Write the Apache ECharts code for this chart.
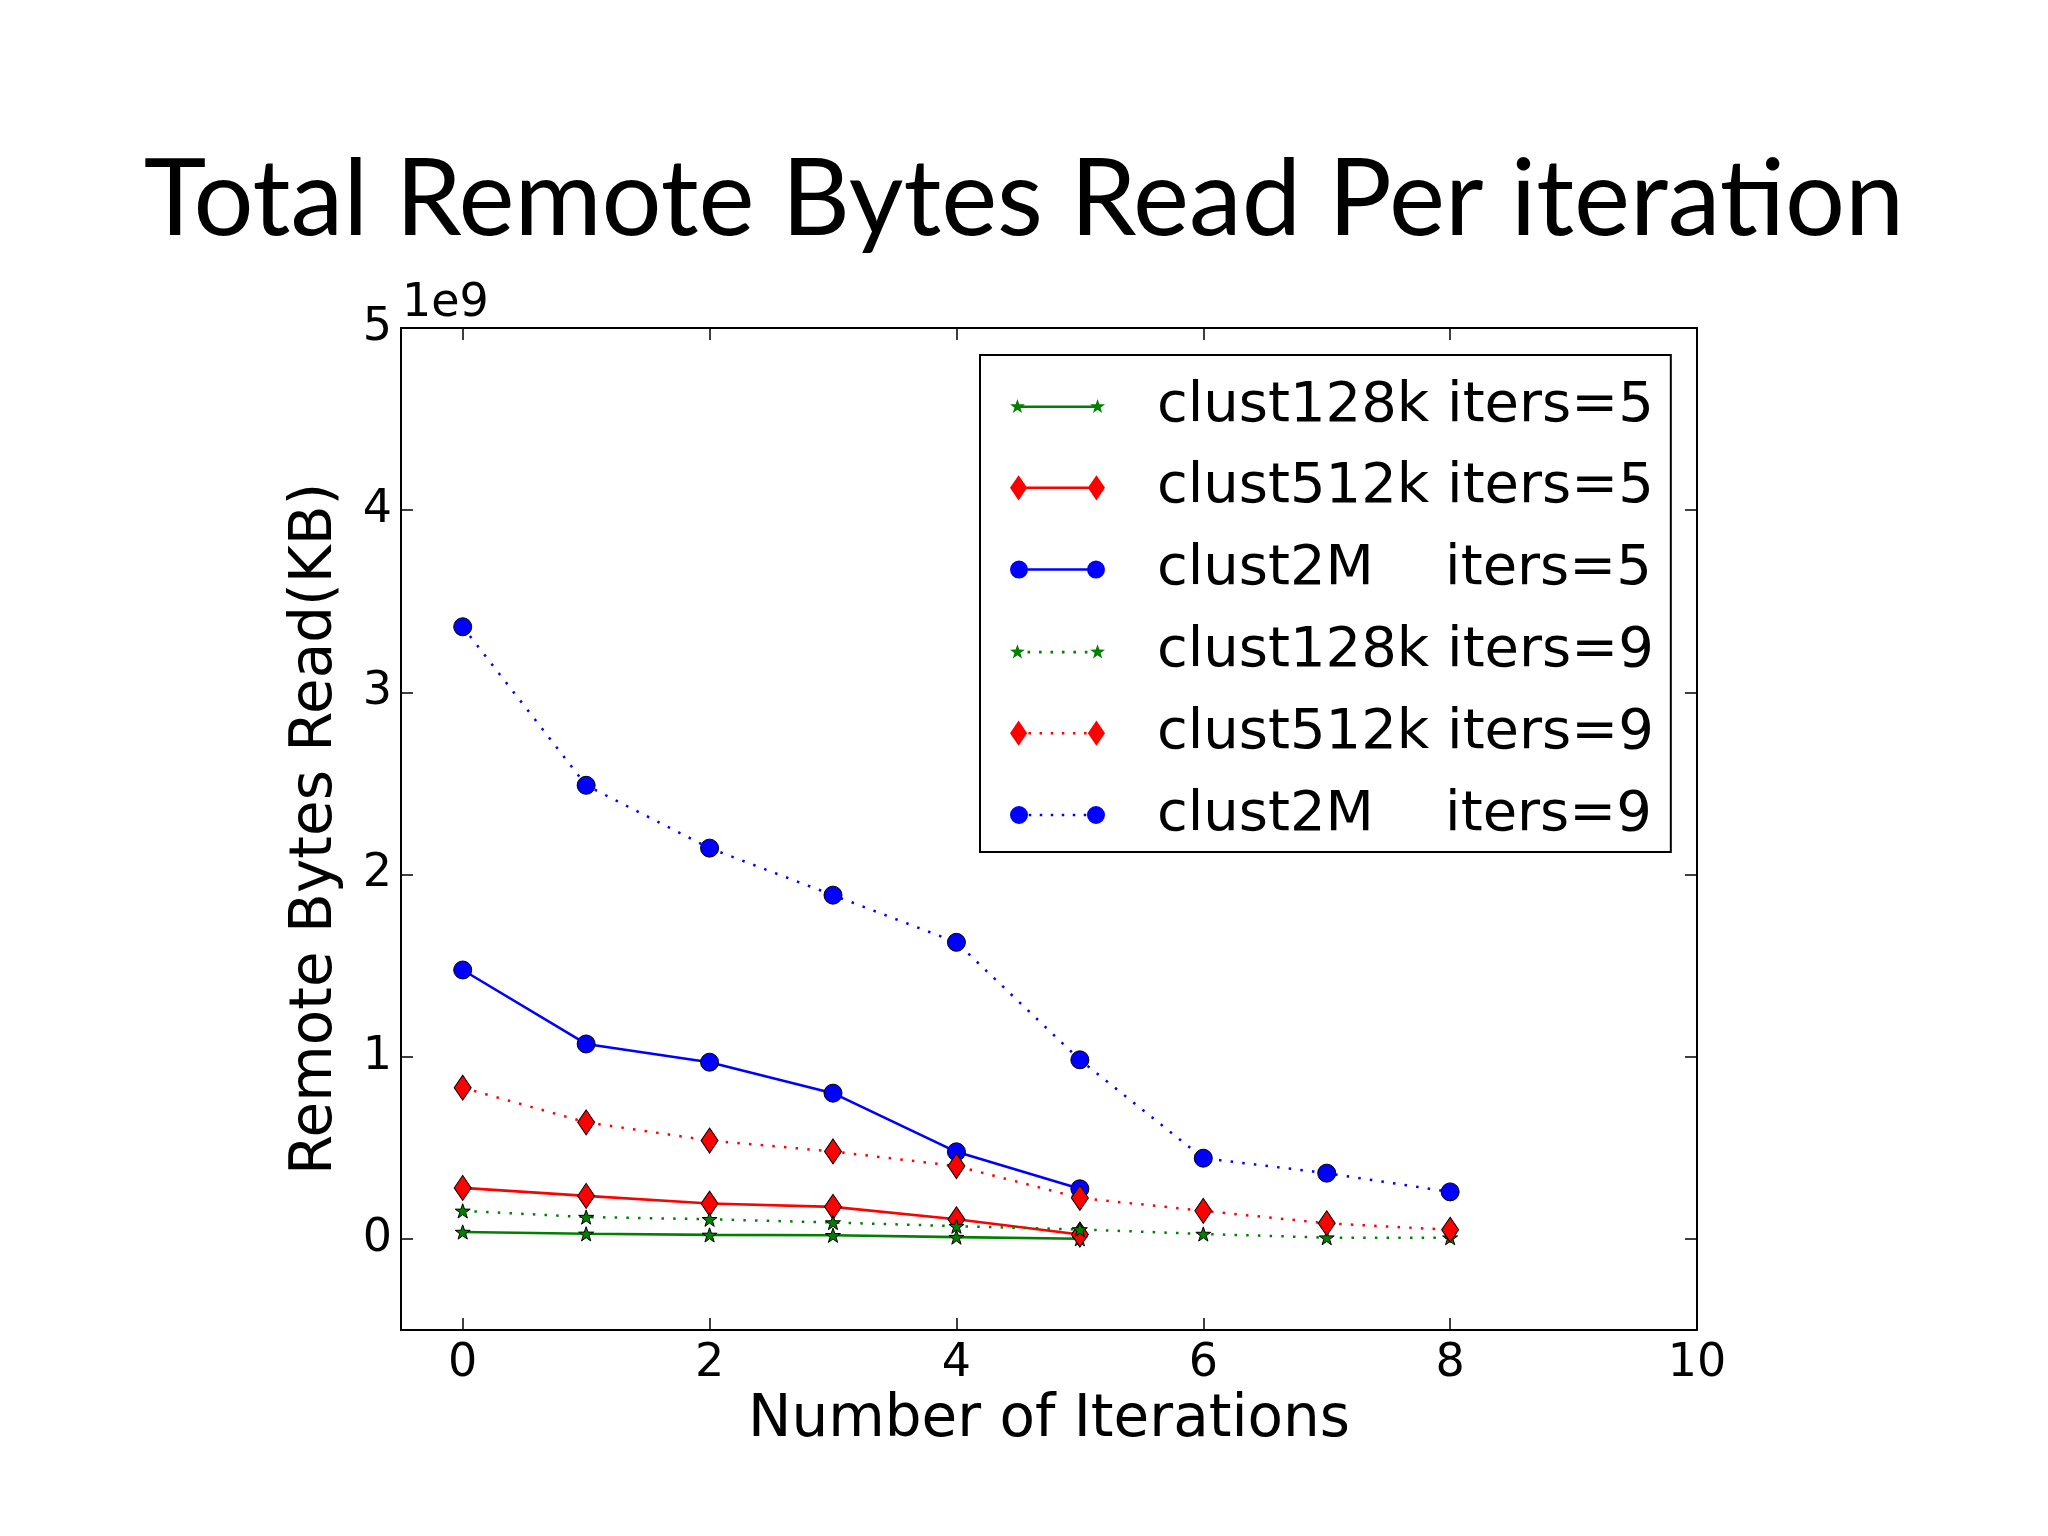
<!DOCTYPE html>
<html><head><meta charset="utf-8">
<script src="https://cdn.jsdelivr.net/npm/echarts@6/dist/echarts.min.js"></script>
<style>html,body{margin:0;padding:0;background:#fff}#c{width:2048px;height:1536px}</style>
</head><body><div id="c"></div>
<script>
// x values (iteration number)
const iters5 = [0, 1, 2, 3, 4, 5];
const iters9 = [0, 1, 2, 3, 4, 5, 6, 7, 8];
// values in units of 1e9
const clust128k_5 = [0.038, 0.028, 0.022, 0.020, 0.010, 0.001];
const clust512k_5 = [0.280, 0.236, 0.194, 0.176, 0.108, 0.024];
const clust2M_5   = [1.476, 1.070, 0.970, 0.800, 0.478, 0.275];
const clust128k_9 = [0.154, 0.120, 0.108, 0.090, 0.070, 0.052, 0.027, 0.007, 0.007];
const clust512k_9 = [0.830, 0.640, 0.540, 0.480, 0.400, 0.225, 0.154, 0.086, 0.050];
const clust2M_9   = [3.360, 2.490, 2.145, 1.887, 1.628, 0.983, 0.443, 0.361, 0.258];
const seriesNames = ['clust128k iters=5', 'clust512k iters=5', 'clust2M    iters=5',
                     'clust128k iters=9', 'clust512k iters=9', 'clust2M    iters=9'];
const xTicks = [0, 2, 4, 6, 8, 10];
const yTicks = [0, 1, 2, 3, 4, 5];
const yScaleLabel = '1e9';

const GREEN = '#008000', RED = '#ff0000', BLUE = '#0000ff';
const FONT = 'DejaVu Sans';

function starPath(cx, cy, R, r) {
  let d = '';
  for (let i = 0; i < 10; i++) {
    const a = -Math.PI / 2 + i * Math.PI / 5;
    const rad = i % 2 ? r : R;
    d += (i ? 'L' : 'M') + (cx + rad * Math.cos(a)).toFixed(2) + ',' + (cy + rad * Math.sin(a)).toFixed(2);
  }
  return d + 'Z';
}
function circlePath(cx, cy, r) {
  return `M${cx - r},${cy}A${r},${r} 0 1 1 ${cx + r},${cy}A${r},${r} 0 1 1 ${cx - r},${cy}Z`;
}
function diamondPath(cx, cy, hw, hh) {
  return `M${cx - hw},${cy}L${cx},${cy - hh}L${cx + hw},${cy}L${cx},${cy + hh}Z`;
}
const C1 = 9, C2 = 86, CY = 13;
function solidSeg() { return `M${C1},${CY - 1.25}L${C2},${CY - 1.25}L${C2},${CY + 1.25}L${C1},${CY + 1.25}Z`; }
function dotSeg() {
  let d = '';
  for (let k = 1; k <= 6; k++) { const x = C1 + k * 11; d += `M${x - 1.25},${CY - 1.25}h2.5v2.5h-2.5Z`; }
  return d;
}
function markerPair(kind) {
  if (kind === 'star') return starPath(C1, CY, 7.5, 3) + starPath(C2, CY, 7.5, 3);
  if (kind === 'diamond') return diamondPath(C1, CY, 8.5, 12.5) + diamondPath(C2, CY, 8.5, 12.5);
  return circlePath(C1, CY, 9) + circlePath(C2, CY, 9);
}
const legendIcon = (kind, dotted) => 'path://' + markerPair(kind) + (dotted ? dotSeg() : solidSeg());

const STAR = 'path://' + starPath(10, 10, 10, 3.9);

function mkSeries(name, xs, ys, color, kind, dotted) {
  const sym = kind === 'star' ? STAR : (kind === 'diamond' ? 'diamond' : 'circle');
  const size = kind === 'star' ? 15 : (kind === 'diamond' ? [17, 25] : 18);
  return {
    name, type: 'line',
    data: xs.map((x, i) => [x, ys[i]]),
    symbol: sym, symbolSize: size, symbolKeepAspect: true,
    showAllSymbol: true,
    lineStyle: { color, width: dotted ? 2.5 : 2.6, type: dotted ? [2.5, 9.2] : 'solid' },
    itemStyle: { color, borderColor: '#000', borderWidth: 1 },
    emphasis: { disabled: true },
    animation: false
  };
}

const series = [
  mkSeries(seriesNames[0], iters5, clust128k_5, GREEN, 'star', false),
  mkSeries(seriesNames[1], iters5, clust512k_5, RED, 'diamond', false),
  mkSeries(seriesNames[2], iters5, clust2M_5, BLUE, 'circle', false),
  mkSeries(seriesNames[3], iters9, clust128k_9, GREEN, 'star', true),
  mkSeries(seriesNames[4], iters9, clust512k_9, RED, 'diamond', true),
  mkSeries(seriesNames[5], iters9, clust2M_9, BLUE, 'circle', true)
];
const kinds = ['star', 'diamond', 'circle', 'star', 'diamond', 'circle'];

const axisLine = { show: true, onZero: false, lineStyle: { color: '#000', width: 2 } };
const tickStyle = { color: '#000', width: 1.5 };

const chart = echarts.init(document.getElementById('c'));
chart.setOption({
  backgroundColor: '#fff',
  animation: false,
  title: {
    text: 'Total Remote Bytes Read Per iteration',
    left: 'center', top: 143,
    textStyle: { fontFamily: 'Lato', fontSize: 106, fontWeight: 'normal', color: '#000' }
  },
  grid: { left: 401, top: 328, width: 1296, height: 1002, containLabel: false },
  xAxis: [
    {
      type: 'value', min: -0.5, max: 10, position: 'bottom',
      axisLine, splitLine: { show: false },
      axisTick: { show: true, inside: true, length: 12, customValues: xTicks, lineStyle: tickStyle },
      axisLabel: { customValues: xTicks, fontFamily: FONT, fontSize: 46, color: '#000', margin: 11 },
      name: 'Number of Iterations', nameLocation: 'middle', nameGap: 58,
      nameTextStyle: { fontFamily: FONT, fontSize: 58, color: '#000' }
    },
    {
      type: 'value', min: -0.5, max: 10, position: 'top',
      axisLine, splitLine: { show: false },
      axisTick: { show: true, inside: true, length: 12, customValues: xTicks, lineStyle: tickStyle },
      axisLabel: { show: false }
    }
  ],
  yAxis: [
    {
      type: 'value', min: -0.5, max: 5, position: 'left',
      axisLine, splitLine: { show: false },
      axisTick: { show: true, inside: true, length: 12, customValues: yTicks, lineStyle: tickStyle },
      axisLabel: { customValues: yTicks, fontFamily: FONT, fontSize: 46, color: '#000', margin: 9 },
      name: 'Remote Bytes Read(KB)', nameLocation: 'middle', nameGap: 56,
      nameTextStyle: { fontFamily: FONT, fontSize: 58, color: '#000' }
    },
    {
      type: 'value', min: -0.5, max: 5, position: 'right',
      axisLine, splitLine: { show: false },
      axisTick: { show: true, inside: true, length: 12, customValues: yTicks, lineStyle: tickStyle },
      axisLabel: { show: false }
    }
  ],
  legend: {
    orient: 'vertical', left: 980, top: 355,
    padding: [21, 17, 7, 30], itemGap: 21.8,
    itemWidth: 95, itemHeight: 26,
    borderColor: '#000', borderWidth: 2, backgroundColor: '#fff',
    selectedMode: false,
    itemStyle: { borderWidth: 0 },
    textStyle: { fontFamily: FONT, fontSize: 56, color: '#000', lineHeight: 60, padding: [0, 0, 0, 47] },
    data: seriesNames.map((n, i) => ({ name: n, icon: legendIcon(kinds[i], i >= 3) }))
  },
  graphic: [{
    type: 'text', left: 402, top: 281,
    style: { text: yScaleLabel, fontFamily: FONT, fontSize: 46, fill: '#000' }
  }],
  series
});
</script></body></html>
